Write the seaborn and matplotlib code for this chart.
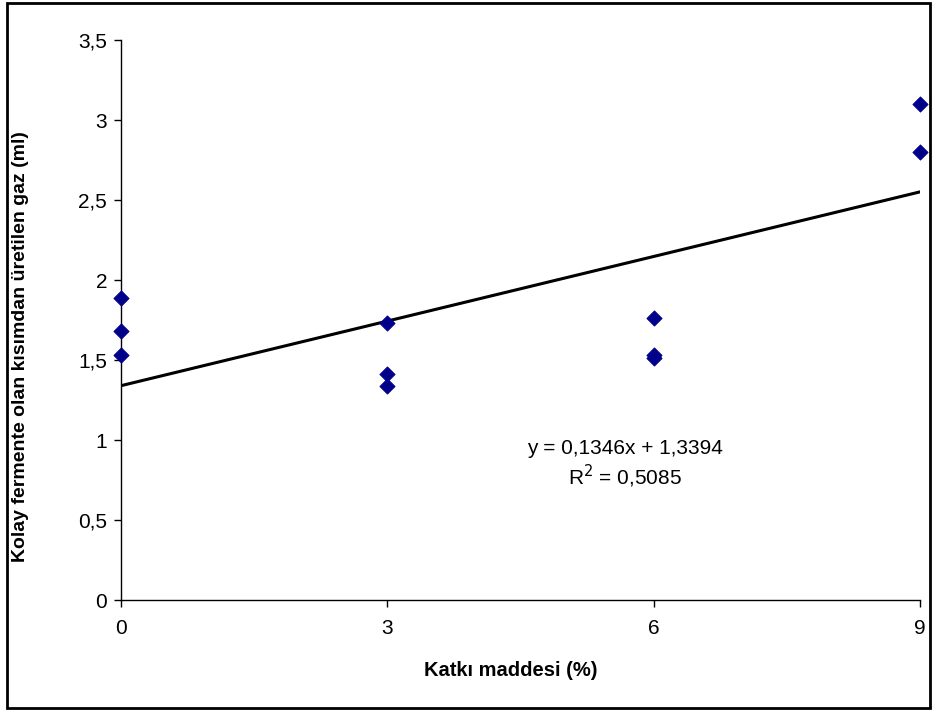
import numpy as np
import pandas as pd
import matplotlib
matplotlib.use("Agg")
import matplotlib.pyplot as plt
import seaborn as sns
from matplotlib.patches import Rectangle
from matplotlib.ticker import FuncFormatter

# values
katki = [0, 0, 0, 3, 3, 3, 6, 6, 6, 9, 9]
gaz = [1.89, 1.68, 1.53, 1.73, 1.41, 1.34, 1.76, 1.53, 1.51, 3.10, 2.80]
slope = 0.1346
intercept = 1.3394
r2 = 0.5085
x_ticks = [0, 3, 6, 9]
y_ticks = [0, 0.5, 1, 1.5, 2, 2.5, 3, 3.5]

df = pd.DataFrame({"katki": katki, "gaz": gaz})

sns.set_style("white")
plt.rcParams['font.family'] = ['Liberation Sans', 'DejaVu Sans']
plt.rcParams['text.color'] = 'black'
plt.rcParams['xtick.color'] = 'black'
plt.rcParams['ytick.color'] = 'black'
plt.rcParams['axes.labelcolor'] = 'black'

fig = plt.figure(figsize=(9.38, 7.15), dpi=100)
ax = fig.add_axes([121 / 938, 1 - 600 / 715, 799 / 938, 560 / 715])

# trend line from the equation shown on the chart
xs = np.array([min(x_ticks), max(x_ticks)])
ax.plot(xs, slope * xs + intercept, color="black", lw=2.2, zorder=2)

sns.scatterplot(data=df, x="katki", y="gaz", marker="D", s=60,
                color="#00008B", edgecolor="#00008B", ax=ax, zorder=3, clip_on=False)

ax.set_xlim(0, 9)
ax.set_ylim(0, 3.5)
ax.set_xticks(x_ticks)
ax.set_yticks(y_ticks)
fmt = FuncFormatter(lambda v, p: ("%g" % v).replace(".", ","))
ax.yaxis.set_major_formatter(fmt)
ax.xaxis.set_major_formatter(fmt)
ax.tick_params(axis="both", direction="out", length=5, width=1,
               labelsize=15, left=True, bottom=True)
ax.tick_params(axis="y", pad=5)
ax.tick_params(axis="x", pad=9)

for side in ["top", "right"]:
    ax.spines[side].set_visible(False)
for side in ["left", "bottom"]:
    ax.spines[side].set_color("black")
    ax.spines[side].set_linewidth(1)

ax.set_xlabel("Katkı maddesi (%)", fontsize=14.5, fontweight="bold")
ax.xaxis.set_label_coords(0.488, -0.125)
ax.xaxis.label.set_va("center")
ax.set_ylabel("Kolay fermente olan kısımdan üretilen gaz (ml)", fontsize=14,
              fontweight="bold")
ax.yaxis.set_label_coords(-0.126, 0.452)
ax.yaxis.label.set_va("center")

ax.text(5.68, 0.95, "y = 0,1346x + 1,3394", fontsize=15, ha="center", va="center")
ax.text(5.68, 0.775, "R$^2$ = 0,5085", fontsize=15, ha="center", va="center")

fig.patches.append(Rectangle((7 / 938, 1 - 708 / 715), 923 / 938, 705 / 715,
                             transform=fig.transFigure, fill=False,
                             edgecolor="black", lw=2))

fig.savefig("out.png", dpi=100)
